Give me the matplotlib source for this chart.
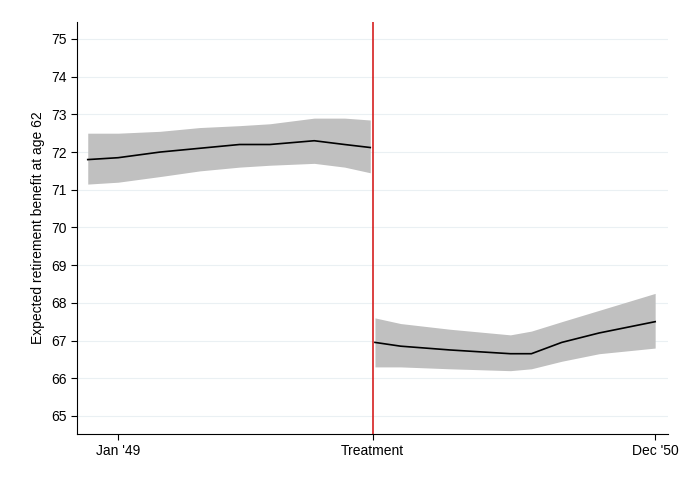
import matplotlib.pyplot as plt

# x in months since Jan '49 (0 = Jan '49, 23 = Dec '50)
pre_x = [-1.3, 0.0, 1.8, 3.5, 5.2, 6.5, 8.4, 9.7, 10.8]
pre_y = [71.8, 71.85, 72.0, 72.1, 72.2, 72.2, 72.3, 72.2, 72.12]
pre_hi = [72.5, 72.5, 72.55, 72.65, 72.7, 72.75, 72.9, 72.9, 72.85]
pre_lo = [71.15, 71.2, 71.35, 71.5, 71.6, 71.65, 71.7, 71.6, 71.45]

post_x = [11.0, 12.1, 14.2, 16.8, 17.7, 19.0, 20.6, 23.0]
post_y = [66.95, 66.85, 66.75, 66.65, 66.65, 66.95, 67.2, 67.5]
post_hi = [67.6, 67.45, 67.3, 67.15, 67.25, 67.5, 67.8, 68.25]
post_lo = [66.3, 66.3, 66.25, 66.2, 66.25, 66.45, 66.65, 66.8]

treat_x = 10.9
xticks = [0, treat_x, 23]
xlabels = ["Jan '49", "Treatment", "Dec '50"]
yticks = list(range(65, 76))

plt.rcParams['font.family'] = ['Liberation Sans', 'DejaVu Sans']
fig = plt.figure(figsize=(6.9, 5.01), dpi=100)
ax = fig.add_axes([77/690, (501-434)/501, (668-77)/690, (434-22)/501])

for y in yticks:
    ax.axhline(y, color='#eaf0f3', lw=0.8, zorder=0)

ax.fill_between(pre_x, pre_lo, pre_hi, color='#c0c0c0', lw=0)
ax.plot(pre_x, pre_y, color='black', lw=1.2)
ax.fill_between(post_x, post_lo, post_hi, color='#c0c0c0', lw=0)
ax.plot(post_x, post_y, color='black', lw=1.2)
ax.axvline(treat_x, color='#d62020', lw=1.2)

ax.set_xlim(-1.76, 23.55)
ax.set_ylim(64.52, 75.45)
ax.set_yticks(yticks)
ax.set_xticks(xticks)
ax.set_xticklabels(xlabels, fontsize=10)
ax.tick_params(axis='y', labelsize=10, direction='out', length=4)
ax.tick_params(axis='x', direction='out', length=4)
ax.set_ylabel('Expected retirement benefit at age 62', fontsize=10)
ax.spines['top'].set_visible(False)
ax.spines['right'].set_visible(False)

fig.savefig('out.png', dpi=100)
